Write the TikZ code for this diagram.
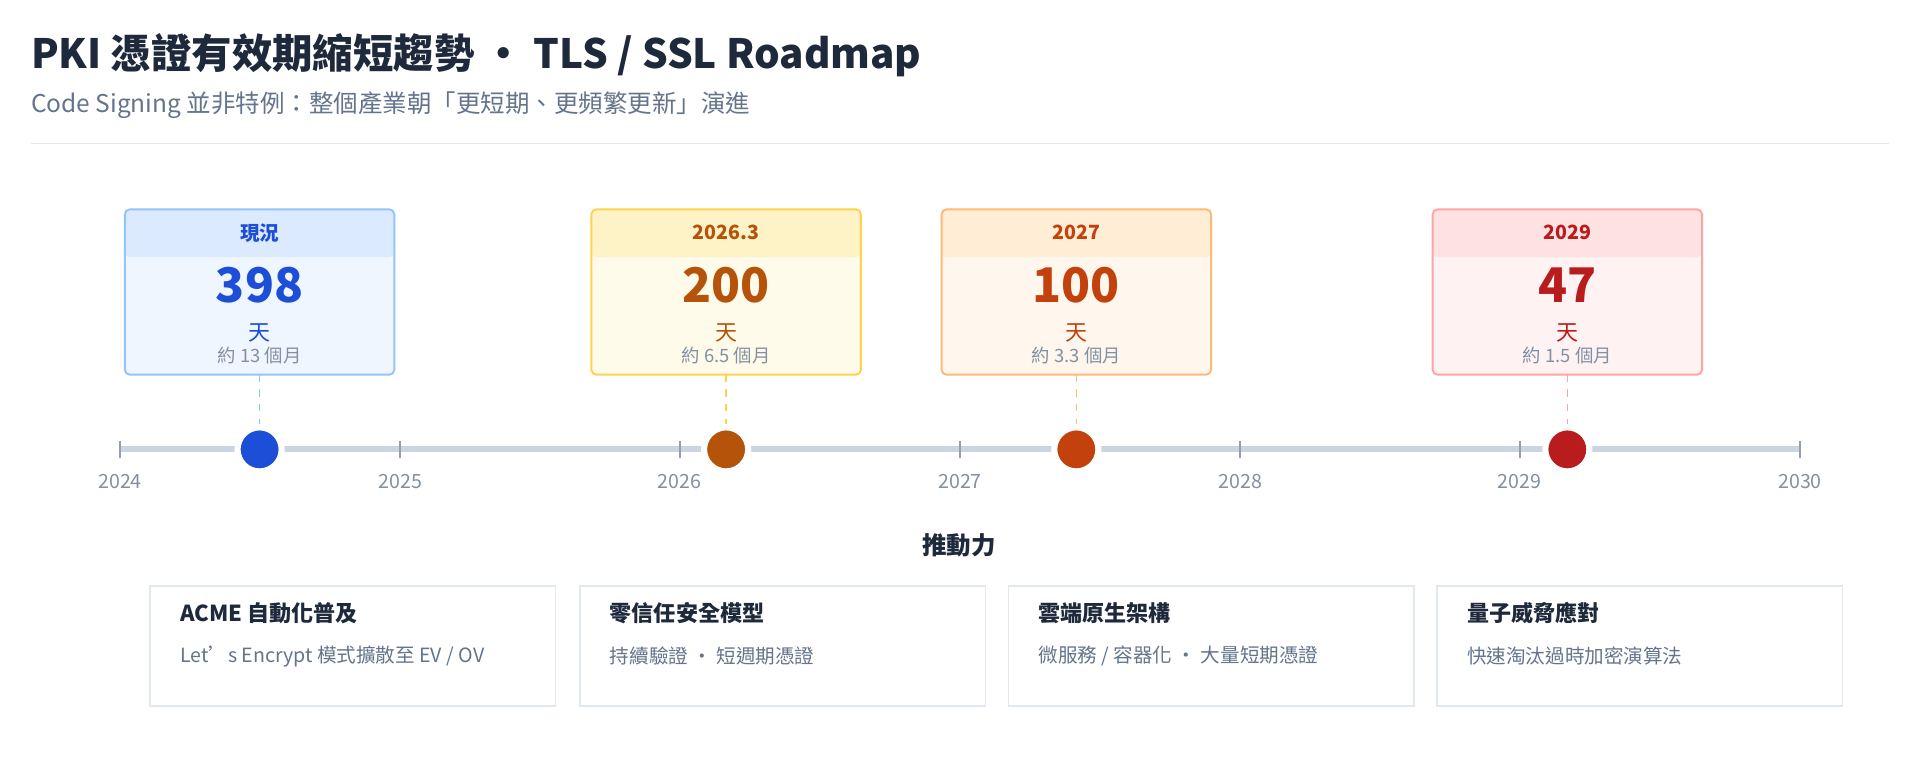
\documentclass[tikz,border=0pt]{standalone}
\usepackage{fontspec}
\setmainfont{Noto Sans CJK TC}
\usepackage{tikz}
\usetikzlibrary{positioning}
\definecolor{ink}{HTML}{1E293B}
\definecolor{mute}{HTML}{64748B}
\definecolor{axis}{HTML}{CBD5E1}
\definecolor{rule}{HTML}{E2E8F0}
\definecolor{bluT}{HTML}{1D4ED8}\definecolor{bluH}{HTML}{DBEAFE}\definecolor{bluB}{HTML}{EFF6FF}\definecolor{bluR}{HTML}{93C5FD}
\definecolor{ylwT}{HTML}{B45309}\definecolor{ylwH}{HTML}{FEF3C7}\definecolor{ylwB}{HTML}{FFFBEB}\definecolor{ylwR}{HTML}{FCD34D}
\definecolor{orgT}{HTML}{C2410C}\definecolor{orgH}{HTML}{FFEDD5}\definecolor{orgB}{HTML}{FFF7ED}\definecolor{orgR}{HTML}{FDBA74}
\definecolor{redT}{HTML}{B91C1C}\definecolor{redH}{HTML}{FEE2E2}\definecolor{redB}{HTML}{FEF2F2}\definecolor{redR}{HTML}{FCA5A5}
\tikzset{
  yearlbl/.style={text=mute!80,font=\fontsize{8}{9}\selectfont},
  card/.style={draw=rule,line width=0.6pt,fill=white,minimum width=165.5pt,minimum height=49pt,anchor=north west},
  cardtitle/.style={anchor=west,text=ink,font=\bfseries\fontsize{9}{10}\selectfont},
  carddesc/.style={anchor=west,text=mute,font=\fontsize{8}{9}\selectfont},
}
% one milestone: x, colour prefix, header, number, months
\newcommand{\milestone}[6]{%
  \fill[#2B,rounded corners=2pt] (#1-110,171) rectangle (#1+110,306);
  \fill[#2H,rounded corners=2pt] (#1-110,171) rectangle (#1+110,210);
  \draw[#2R,line width=0.8pt,rounded corners=2pt] (#1-110,171) rectangle (#1+110,306);
  \node[text=#2T,font=\bfseries\fontsize{8}{9}\selectfont] (#6h) at (#1,190) {#3};
  \node[text=#2T,font=\bfseries\fontsize{19.5}{20}\selectfont] (#6n) at (#1,233) {#4};
  \node[text=#2T,font=\fontsize{9}{10}\selectfont] (#6d) at (#1,272) {天};
  \node[text=mute!80,font=\fontsize{7.5}{8}\selectfont] (#6m) at (#1,290) {#5};
  \coordinate (#6b) at (#1,306);
  \node[circle,fill=#2T,draw=white,line width=2.5pt,minimum size=18pt,inner sep=0pt] (#6p) at (#1,367) {};
  \draw[#2R,dashed,line width=0.6pt] (#6b) -- (#6p.north);
}
\begin{document}
\begin{tikzpicture}[x=0.5pt,y=-0.5pt]
\useasboundingbox (0,0) rectangle (1568,625);
\fill[white] (0,0) rectangle (1568,625);
% heading
\node[anchor=west,text=ink,font=\bfseries\fontsize{16.5}{18}\selectfont,inner sep=0pt] (title) at (25,45) {PKI 憑證有效期縮短趨勢 ・ TLS / SSL Roadmap};
\node[anchor=west,text=mute,font=\fontsize{10}{12}\selectfont,inner sep=0pt] (subtitle) at (25,86) {Code Signing 並非特例：整個產業朝「更短期、更頻繁更新」演進};
\draw[rule,line width=0.6pt] (25,117) -- (1543,117);
% axis
\draw[axis,line width=2.5pt] (98,367) -- (1470,367);
\foreach \yr/\xx in {2024/98,2025/327,2026/555,2027/784,2028/1013,2029/1241,2030/1470}{
  \draw[mute!70,line width=0.8pt] (\xx,360) -- (\xx,374);
  \node[yearlbl] (y\yr) at (\xx,393) {\yr};
}
% milestones
\milestone{212}{blu}{現況}{398}{約 13 個月}{now}
\milestone{593}{ylw}{2026.3}{200}{約 6.5 個月}{m26}
\milestone{879}{org}{2027}{100}{約 3.3 個月}{m27}
\milestone{1280}{red}{2029}{47}{約 1.5 個月}{m29}
% drivers
\node[text=ink,font=\bfseries\fontsize{10}{12}\selectfont] (drivers) at (783,445) {推動力};
\node[card] (c1) at (122,478) {};
\node[card] (c2) at (473,478) {};
\node[card] (c3) at (823,478) {};
\node[card] (c4) at (1173,478) {};
\node[cardtitle] (t1) at (140,501) {ACME 自動化普及};
\node[carddesc] (d1) at (140,536) {Let's Encrypt 模式擴散至 EV / OV};
\node[cardtitle] (t2) at (491,501) {零信任安全模型};
\node[carddesc] (d2) at (491,536) {持續驗證 ・ 短週期憑證};
\node[cardtitle] (t3) at (841,501) {雲端原生架構};
\node[carddesc] (d3) at (841,536) {微服務 / 容器化 ・ 大量短期憑證};
\node[cardtitle] (t4) at (1191,501) {量子威脅應對};
\node[carddesc] (d4) at (1191,536) {快速淘汰過時加密演算法};
\end{tikzpicture}
\end{document}
